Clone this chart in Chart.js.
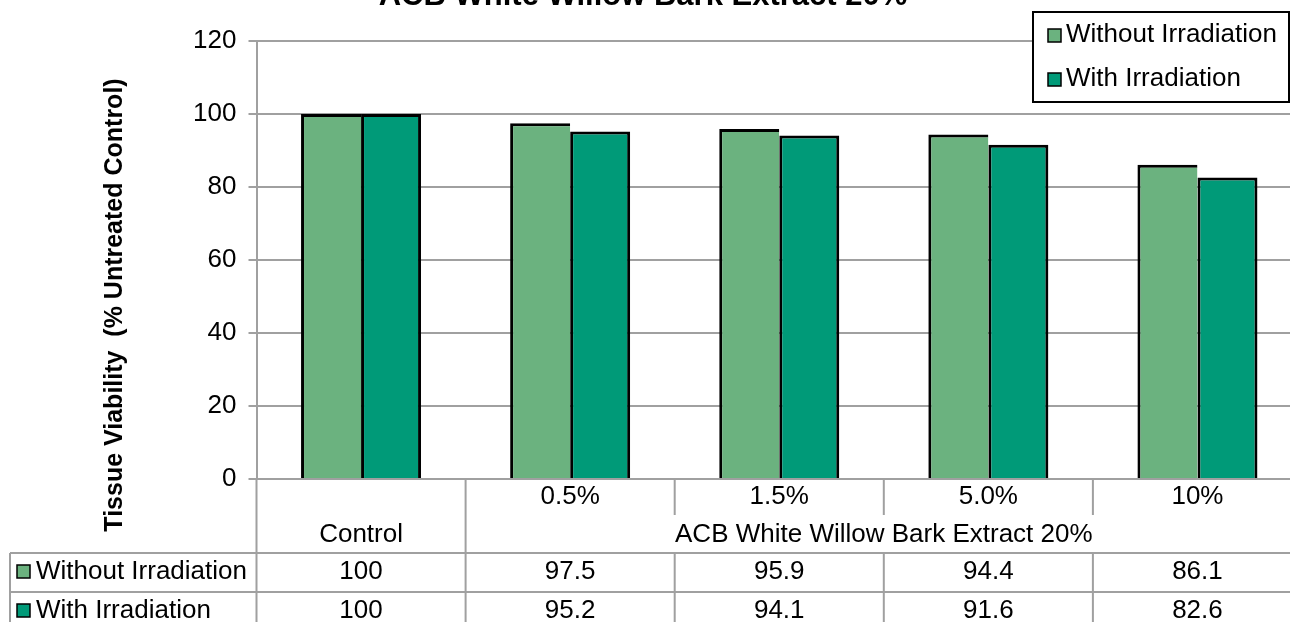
<!DOCTYPE html>
<html>
<head>
<meta charset="utf-8">
<title>Tissue Viability</title>
<script src="https://cdn.jsdelivr.net/npm/chart.js@4.4.1/dist/chart.umd.min.js"></script>
<style>
  html, body { margin: 0; padding: 0; background: #fff; overflow: hidden; }
  canvas { display: block; }
</style>
</head>
<body>
<canvas id="viabilityChart" width="1302" height="622"></canvas>
<script>
// datos del grafico
const chartTitle = 'ACB White Willow Bark Extract 20%';
const yAxisTitle = 'Tissue Viability  (% Untreated Control)';
const categories = ['Control', '0.5%', '1.5%', '5.0%', '10%'];
const groupLabel = 'ACB White Willow Bark Extract 20%';
const seriesNames = ['Without Irradiation', 'With Irradiation'];
const withoutIrradiation = [100, 97.5, 95.9, 94.4, 86.1];
const withIrradiation = [100, 95.2, 94.1, 91.6, 82.6];
const yTicks = [0, 20, 40, 60, 80, 100, 120];

const colores = ['#6bb27f', '#009a78'];
const gris = '#a0a0a0';
const fuente = '"Liberation Sans", Arial, sans-serif';

// dibuja titulo, leyenda y tabla de datos
const extrasPlugin = {
    id: 'extras',
    afterDraw(chart) {
        const ctx = chart.ctx;
        const area = chart.chartArea;
        const xs = chart.scales.x;
        const w = xs.width / categories.length;
        const series = [withoutIrradiation, withIrradiation];
        ctx.save();

        // titulo (cortado arriba)
        ctx.fillStyle = '#000';
        ctx.font = 'bold 31px ' + fuente;
        ctx.textAlign = 'center';
        ctx.textBaseline = 'alphabetic';
        ctx.fillText(chartTitle, 643, 5);

        // titulo eje Y
        ctx.save();
        ctx.translate(122, 305);
        ctx.rotate(-Math.PI / 2);
        ctx.font = 'bold 25px ' + fuente;
        ctx.fillText(yAxisTitle, 0, 0);
        ctx.restore();

        // leyenda
        ctx.fillStyle = '#fff';
        ctx.fillRect(1033, 12, 256, 90);
        ctx.strokeStyle = '#000';
        ctx.lineWidth = 2;
        ctx.strokeRect(1033, 12, 256, 90);
        ctx.font = '26px ' + fuente;
        ctx.textAlign = 'left';
        ctx.textBaseline = 'middle';
        [35, 79].forEach((cy, i) => {
            ctx.fillStyle = colores[i];
            ctx.fillRect(1048, cy - 6, 13, 13);
            ctx.strokeStyle = '#000';
            ctx.lineWidth = 1.5;
            ctx.strokeRect(1048, cy - 6, 13, 13);
            ctx.fillStyle = '#000';
            ctx.fillText(seriesNames[i], 1066, cy);
        });

        // tabla de datos
        const y0 = area.bottom;
        const yConc = 515;
        const yHead = 553;
        const yRow1 = 592;
        const yEnd = 640;
        const right = chart.width;
        const bordes = categories.map((c, i) => xs.getPixelForTick(i) - w / 2);

        ctx.strokeStyle = gris;
        ctx.lineWidth = 2;
        ctx.beginPath();
        // horizontales
        ctx.moveTo(10, yHead); ctx.lineTo(right, yHead);
        ctx.moveTo(10, yRow1); ctx.lineTo(right, yRow1);
        // verticales
        ctx.moveTo(10, yHead); ctx.lineTo(10, yEnd);
        ctx.moveTo(bordes[0], y0); ctx.lineTo(bordes[0], yEnd);
        ctx.moveTo(bordes[1], y0); ctx.lineTo(bordes[1], yEnd);
        for (let i = 2; i < bordes.length; i++) {
            ctx.moveTo(bordes[i], y0); ctx.lineTo(bordes[i], yConc);
            ctx.moveTo(bordes[i], yHead); ctx.lineTo(bordes[i], yEnd);
        }
        ctx.stroke();

        ctx.fillStyle = '#000';
        ctx.font = '26px ' + fuente;
        ctx.textAlign = 'center';
        ctx.textBaseline = 'middle';
        for (let i = 1; i < categories.length; i++) {
            ctx.fillText(categories[i], xs.getPixelForTick(i), 497);
        }
        ctx.fillText(categories[0], xs.getPixelForTick(0), 535);
        ctx.fillText(groupLabel, (bordes[1] + area.right) / 2, 535);

        [572, 611].forEach((cy, r) => {
            series[r].forEach((v, i) => {
                ctx.fillText(String(v), xs.getPixelForTick(i), cy);
            });
        });

        // etiquetas de fila con su color
        ctx.textAlign = 'left';
        [572, 611].forEach((cy, r) => {
            ctx.fillStyle = colores[r];
            ctx.fillRect(17, cy - 7, 13, 13);
            ctx.strokeStyle = '#000';
            ctx.lineWidth = 1.5;
            ctx.strokeRect(17, cy - 7, 13, 13);
            ctx.fillStyle = '#000';
            ctx.fillText(seriesNames[r], 36, cy);
        });

        ctx.restore();
    }
};

new Chart(document.getElementById('viabilityChart'), {
    type: 'bar',
    data: {
        labels: categories,
        datasets: [{
            label: seriesNames[0],
            data: withoutIrradiation,
            backgroundColor: colores[0],
            borderColor: '#000',
            borderSkipped: false,
            borderWidth: { top: 3, left: 3, right: 0, bottom: 0 }
        }, {
            label: seriesNames[1],
            data: withIrradiation,
            backgroundColor: colores[1],
            borderColor: '#000',
            borderSkipped: false,
            borderWidth: { top: 3, left: 3, right: 3, bottom: 0 }
        }]
    },
    options: {
        responsive: false,
        animation: false,
        categoryPercentage: 0.574,
        barPercentage: 1,
        layout: {
            padding: { top: 41, left: 0, right: 0, bottom: 0 }
        },
        plugins: {
            legend: { display: false },
            title: { display: false },
            tooltip: { enabled: false }
        },
        scales: {
            x: {
                grid: { display: false },
                border: { display: true, color: gris, width: 2 },
                ticks: { display: false },
                afterFit: function(scale) {
                    scale.height = 143;
                }
            },
            y: {
                min: 0,
                max: 120,
                afterBuildTicks: function(scale) {
                    scale.ticks = yTicks.map(v => ({ value: v }));
                },
                grid: {
                    color: gris,
                    lineWidth: 2,
                    tickLength: 8
                },
                border: { display: true, color: gris, width: 2 },
                ticks: {
                    color: '#000',
                    padding: 12,
                    font: { size: 26, family: fuente }
                },
                afterFit: function(scale) {
                    scale.width = 256.5;
                }
            }
        }
    },
    plugins: [extrasPlugin]
});
</script>
</body>
</html>
